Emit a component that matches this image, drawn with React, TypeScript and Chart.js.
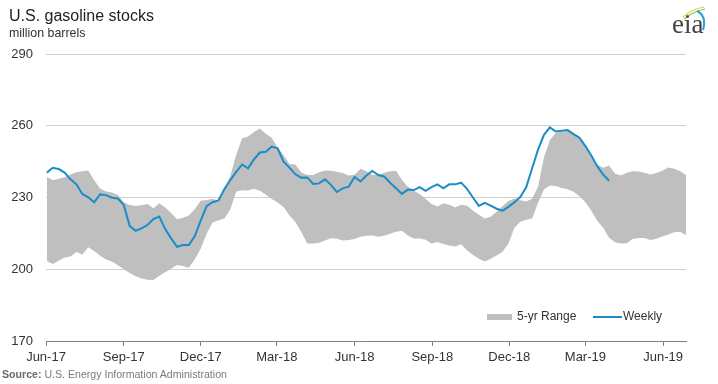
import React, { useEffect, useRef } from "react";
import { Chart, registerables } from "chart.js";

Chart.register(...registerables);

// Weekly gasoline stocks (million barrels), week ending dates starting 2017-06-02
const weeklyStart = "2017-06-02";
const weekly = [
  240.4, 242.4, 241.9, 240.4, 237.6, 235.5, 231.5, 230.1, 228.0, 231.3,
  231.0, 229.9, 229.6, 226.9, 218.1, 216.1, 217.1, 218.5, 221.0, 222.0,
  216.8, 212.9, 209.4, 210.1, 210.1, 213.9, 220.3, 226.4, 228.0, 228.8,
  233.5, 237.3, 240.7, 243.8, 242.2, 245.9, 248.8, 249.1, 251.3, 250.6,
  245.0, 242.5, 239.7, 238.3, 238.4, 235.7, 235.9, 237.6, 235.3, 232.3,
  233.8, 234.5, 238.6, 236.7, 239.2, 241.1, 239.4, 238.8, 236.2, 233.9,
  231.5, 233.3, 233.1, 234.3, 232.8, 234.3, 235.5, 233.8, 235.5, 235.5,
  236.2, 233.6, 230.0, 226.5, 227.8, 226.6, 225.3, 224.5, 226.1, 228.0,
  230.2, 234.3, 242.2, 250.0, 256.2, 259.3, 257.6, 257.9, 258.2, 256.5,
  255.0, 251.5, 247.6, 243.1, 239.6, 237.0,
];

// 5-year range (upper / lower), same weekly calendar, extended to end of June 2019
const rangeHigh = [
  238.7, 237.2, 237.8, 238.5, 239.6, 240.6, 241.0, 241.3, 237.2, 233.8,
  232.5, 232.1, 231.0, 228.0, 226.9, 226.4, 226.8, 227.3, 225.5, 227.6,
  225.8, 223.5, 220.9, 221.5, 222.5, 225.2, 228.6, 229.0, 229.5, 228.5,
  233.5, 239.0, 248.0, 254.8, 255.5, 257.4, 258.9, 256.7, 255.0, 250.8,
  247.8, 244.0, 243.8, 240.5, 239.4, 239.4, 240.6, 241.3, 241.2, 240.8,
  240.2, 239.2, 239.5, 242.0, 241.0, 239.4, 239.4, 240.3, 241.0, 241.2,
  237.3, 234.5, 232.8, 231.5, 229.5, 227.3, 226.2, 227.6, 227.0, 225.8,
  227.0, 226.5, 224.6, 222.8, 221.2, 222.0, 224.0, 226.4, 228.5, 229.6,
  228.9, 228.3, 229.5, 234.5, 246.8, 254.0, 257.0, 257.5, 257.8, 256.5,
  254.8, 251.2, 247.6, 243.7, 242.4, 243.4, 240.0, 239.2, 240.3, 241.0,
  240.9, 240.4, 239.6, 240.2, 241.2, 242.5, 242.0, 241.0, 239.4,
];
const rangeLow = [
  203.4, 202.2, 203.6, 204.9, 205.3, 207.2, 206.2, 209.2, 207.6, 205.6,
  204.1, 203.2, 201.7, 200.0, 198.4, 197.1, 196.1, 195.6, 195.5, 197.3,
  198.7, 200.2, 201.8, 201.4, 200.6, 204.2, 208.6, 214.8, 219.5, 220.5,
  221.2, 225.0, 232.5, 233.0, 232.9, 233.7, 232.8, 231.2, 229.4, 227.9,
  226.0, 222.5, 219.8, 215.6, 210.8, 210.8, 211.1, 212.0, 213.0, 212.8,
  212.0, 212.2, 212.7, 213.6, 214.0, 214.1, 213.6, 214.0, 214.8, 215.7,
  216.1, 214.1, 212.9, 212.9, 212.3, 210.8, 211.4, 210.6, 209.9, 209.5,
  210.5, 207.9, 206.0, 204.4, 203.2, 204.4, 205.8, 207.3, 210.8, 217.4,
  219.9, 220.7, 221.2, 227.8, 233.5, 235.0, 234.8, 234.0, 233.4, 232.4,
  230.5, 228.0, 224.5, 220.3, 217.3, 213.2, 211.3, 210.8, 210.9, 212.6,
  213.1, 213.1, 212.2, 212.8, 213.7, 214.5, 215.5, 215.7, 214.3,
];

const axisStart = "2017-06-01";
const axisEnd = "2019-06-28";
const tickDates = [
  "2017-06-01", "2017-09-01", "2017-12-01", "2018-03-01", "2018-06-01",
  "2018-09-01", "2018-12-01", "2019-03-01", "2019-06-01",
];
const tickLabels = [
  "Jun-17", "Sep-17", "Dec-17", "Mar-18", "Jun-18",
  "Sep-18", "Dec-18", "Mar-19", "Jun-19",
];
const yTicks = [170, 200, 230, 260, 290];

const DAY = 86400000;
const toDay = (s: string) => (Date.parse(s + "T00:00:00Z") - Date.parse(axisStart + "T00:00:00Z")) / DAY;
const firstWeek = toDay(weeklyStart);
const weekX = (i: number) => firstWeek + 7 * i;

const FONT = "'Liberation Sans', Arial, sans-serif";

const legendPlugin = {
  id: "insideLegend",
  afterDraw(chart: any) {
    const { ctx, chartArea } = chart;
    const y = chartArea.bottom - 24;
    ctx.save();
    ctx.fillStyle = "#bfbfbf";
    const rx = chartArea.right - 199;
    ctx.fillRect(rx, y - 3, 25, 6);
    ctx.font = `12px ${FONT}`;
    ctx.fillStyle = "#333";
    ctx.textBaseline = "middle";
    ctx.textAlign = "left";
    ctx.fillText("5-yr Range", rx + 30, y);
    const lx = chartArea.right - 93;
    ctx.strokeStyle = "#1a8cc8";
    ctx.lineWidth = 2;
    ctx.beginPath();
    ctx.moveTo(lx, y);
    ctx.lineTo(lx + 29, y);
    ctx.stroke();
    ctx.fillText("Weekly", lx + 30, y);
    ctx.restore();
  },
};

export default function App() {
  const ref = useRef<HTMLCanvasElement>(null);

  useEffect(() => {
    if (!ref.current) return;
    const chart = new Chart(ref.current, {
      type: "line",
      data: {
        datasets: [
          {
            label: "Weekly",
            data: weekly.map((v, i) => ({ x: weekX(i), y: v })),
            borderColor: "#1a8cc8",
            borderWidth: 2,
            pointRadius: 0,
            tension: 0,
            fill: false,
          },
          {
            label: "5-yr Low",
            data: rangeLow.map((v, i) => ({ x: weekX(i), y: v })),
            borderWidth: 0,
            borderColor: "rgba(0,0,0,0)",
            pointRadius: 0,
            tension: 0,
            fill: false,
          },
          {
            label: "5-yr Range",
            data: rangeHigh.map((v, i) => ({ x: weekX(i), y: v })),
            borderWidth: 0,
            borderColor: "rgba(0,0,0,0)",
            backgroundColor: "#bfbfbf",
            pointRadius: 0,
            tension: 0,
            fill: "-1",
          },
        ],
      },
      options: {
        animation: false,
        responsive: false,
        events: [],
        layout: { padding: { left: 0, right: 32, top: 54, bottom: 0 } },
        plugins: {
          legend: { display: false },
          tooltip: { enabled: false },
          title: { display: false },
        },
        scales: {
          x: {
            type: "linear",
            min: 0,
            max: toDay(axisEnd),
            afterBuildTicks: (scale: any) => {
              scale.ticks = tickDates.map((d) => ({ value: toDay(d) }));
            },
            afterFit: (scale: any) => {
              scale.height = 43;
            },
            ticks: {
              autoSkip: false,
              maxRotation: 0,
              padding: 4,
              color: "#333",
              font: { family: FONT, size: 13 },
              callback: (v: any) => {
                const idx = tickDates.findIndex((d) => toDay(d) === v);
                return idx >= 0 ? tickLabels[idx] : "";
              },
            },
            grid: {
              drawOnChartArea: false,
              drawTicks: true,
              tickLength: 5,
              color: "#808080",
            },
            border: { display: true, color: "#808080", width: 1 },
          },
          y: {
            min: 170,
            max: 290,
            afterBuildTicks: (scale: any) => {
              scale.ticks = yTicks.map((v) => ({ value: v }));
            },
            afterFit: (scale: any) => {
              scale.width = 46;
            },
            ticks: {
              padding: 13,
              color: "#333",
              font: { family: FONT, size: 13 },
            },
            grid: { color: "#d0d0d0", drawTicks: false, lineWidth: 1 },
            border: { display: false },
          },
        },
      },
      plugins: [legendPlugin],
    });
    return () => chart.destroy();
  }, []);

  return (
    <div style={{ position: "fixed", left: 0, top: 0, width: 718, height: 384, background: "#fff" }}>
      <canvas ref={ref} width={718} height={384} style={{ position: "absolute", left: 0, top: 0 }} />
      <svg width={718} height={384} style={{ position: "absolute", left: 0, top: 0, pointerEvents: "none" }}>
        <text x={9} y={21} fontFamily={FONT} fontSize={16} fill="#222">U.S. gasoline stocks</text>
        <text x={9} y={37} fontFamily={FONT} fontSize={12.4} fill="#333">million barrels</text>
        <text x={2} y={378} fontFamily={FONT} fontSize={10.6} fill="#7a7a7a">
          <tspan fontWeight="bold" fill="#6a6a6a">Source:</tspan> U.S. Energy Information Administration
        </text>
        <path d="M683 17 Q692 9 704 7" stroke="#c8d23c" strokeWidth={1.2} fill="none" />
        <path d="M684 19 Q694 11 705 9" stroke="#7fbf4a" strokeWidth={1.2} fill="none" />
        <path d="M697 11 Q707 16 703 30" stroke="#2a9fd6" strokeWidth={2} fill="none" />
        <text x={672} y={33} fontFamily="'Liberation Serif', 'DejaVu Serif', serif" fontSize={27} fill="#444">eia</text>
      </svg>
    </div>
  );
}
